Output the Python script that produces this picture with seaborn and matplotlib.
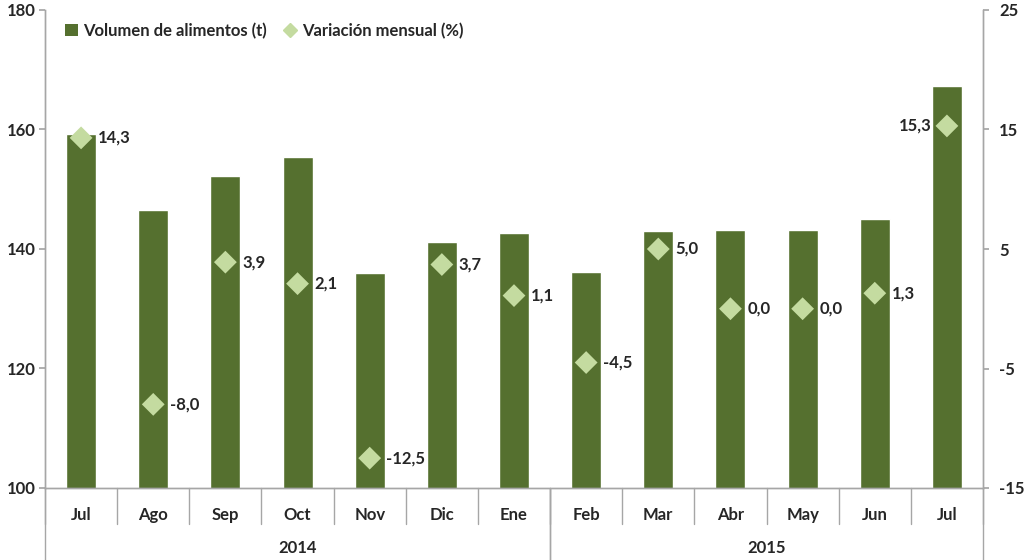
import numpy as np
import pandas as pd
import seaborn as sns
import matplotlib.pyplot as plt
from matplotlib.patches import Patch
from matplotlib.lines import Line2D

# data
meses = ["Jul", "Ago", "Sep", "Oct", "Nov", "Dic", "Ene",
         "Feb", "Mar", "Abr", "May", "Jun", "Jul"]
anios = ["2014", "2015"]
n_meses_anio = [7, 6]
volumen = [159.3, 146.6, 152.2, 155.4, 135.9, 141.1, 142.7,
           136.2, 143.0, 143.1, 143.1, 145.0, 167.2]
variacion = [14.3, -8.0, 3.9, 2.1, -12.5, 3.7, 1.1,
             -4.5, 5.0, 0.0, 0.0, 1.3, 15.3]

verde = "#55702f"
verde_claro = "#c4dba0"
gris = "#a6a6a6"

sns.set_theme(style="white")
plt.rcParams["font.family"] = ["Lato", "DejaVu Sans"]
plt.rcParams["font.weight"] = "bold"
plt.rcParams["axes.unicode_minus"] = False

data = pd.DataFrame({"pos": np.arange(len(meses)), "mes": meses,
                     "volumen": volumen, "variacion": variacion})

fig = plt.figure(figsize=(10.24, 5.6), dpi=100)
ax = fig.add_axes([45 / 1024, 72 / 560, 938 / 1024, 478 / 560])

sns.barplot(data=data, x="pos", y="volumen", native_scale=True,
            color=verde, width=0.415, saturation=1, ax=ax)
ax.set_xlim(-0.5, len(meses) - 0.5)
ax.set_ylim(100, 180)
ax.set_yticks(range(100, 181, 20))
ax.set_xlabel("")
ax.set_ylabel("")

ax2 = ax.twinx()
sns.scatterplot(data=data, x="pos", y="variacion", marker="D", s=135,
                color=verde_claro, edgecolor="none", ax=ax2, zorder=5)
ax2.set_ylim(-15, 25)
ax2.set_yticks(range(-15, 26, 10))
ax2.set_ylabel("")

# value labels
for i, v in enumerate(variacion):
    txt = f"{v:.1f}".replace(".", ",")
    if i == len(variacion) - 1:
        ax2.annotate(txt, (i, v), xytext=(-11, 0), textcoords="offset points",
                     ha="right", va="center", fontsize=12, fontweight="bold")
    else:
        ax2.annotate(txt, (i, v), xytext=(12, 0), textcoords="offset points",
                     ha="left", va="center", fontsize=12, fontweight="bold")

# axes styling
for a in (ax, ax2):
    a.spines["top"].set_visible(False)
    for s in ("left", "right", "bottom"):
        a.spines[s].set_color(gris)
        a.spines[s].set_linewidth(1)
ax.tick_params(axis="y", length=4, color=gris, labelsize=12, pad=3)
ax2.tick_params(axis="y", length=4.5, color=gris, labelsize=12, pad=7)
ax.set_xticks(data["pos"])
ax.set_xticklabels(meses)
ax.tick_params(axis="x", length=0, labelsize=12, pad=14)

# category dividers and year labels below the axis
trans = ax.get_xaxis_transform()
for i in range(len(meses) + 1):
    x = i - 0.5
    ax.plot([x, x], [0, -0.075], transform=trans, color=gris, lw=1, clip_on=False)
start = 0
for anio, n in zip(anios, n_meses_anio):
    for x in (start - 0.5, start + n - 0.5):
        ax.plot([x, x], [0, -0.16], transform=trans, color=gris, lw=1, clip_on=False)
    ax.text(start + (n - 1) / 2, -0.125, anio, transform=trans,
            ha="center", va="center", fontsize=12, fontweight="bold")
    start += n

handles = [Patch(facecolor=verde, edgecolor="none"),
           Line2D([], [], marker="D", color=verde_claro, linestyle="none", markersize=7)]
ax.legend(handles, ["Volumen de alimentos (t)", "Variación mensual (%)"],
          loc="upper left", bbox_to_anchor=(0.005, 1.005), ncol=2, frameon=False,
          prop={"size": 12, "weight": "bold"}, handlelength=0.8, handletextpad=0.3,
          columnspacing=1.0)

fig.savefig("out.png", dpi=100)
